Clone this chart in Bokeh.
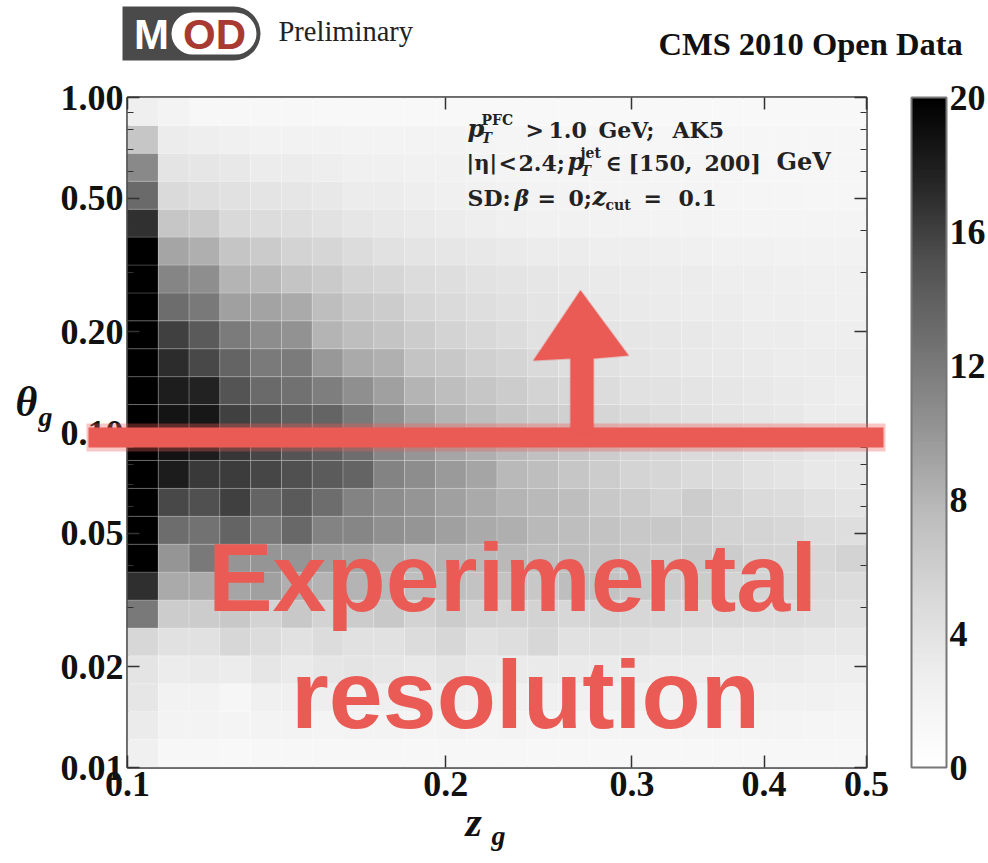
import numpy as np
from bokeh.plotting import figure
from bokeh.models import (ColumnDataSource, LinearColorMapper, ColorBar, FixedTicker, LogAxis,
                          CustomJSTickFormatter, Label, BoxAnnotation, PolyAnnotation, GridBox)
from bokeh.embed import file_html
from bokeh.resources import INLINE

# ---------------- data ----------------
z_edges = np.geomspace(0.1, 0.5, 25)        # 24 log bins in z_g
theta_edges = np.geomspace(0.01, 1.0, 25)   # 24 log bins in theta_g

# density, row 0 = lowest theta bin, column 0 = lowest z bin
density = [
    [2.5, 1.4, 1.3, 1.2, 1.4, 1.3, 1.4, 1.3, 1.3, 1.3, 1.4, 1.3, 1.3, 1.3, 1.3, 1.3, 1.3, 1.3, 1.3, 1.3, 1.3, 1.3, 1.3, 1.3],
    [3.1, 2.0, 2.0, 1.8, 2.0, 2.0, 1.9, 2.0, 2.0, 1.9, 2.0, 1.9, 2.0, 1.9, 1.9, 1.8, 1.9, 1.9, 1.8, 1.8, 1.8, 1.8, 1.7, 1.7],
    [3.6, 2.2, 2.2, 1.5, 2.5, 2.5, 2.7, 2.5, 2.6, 2.6, 2.7, 2.6, 2.5, 2.5, 2.5, 2.5, 2.5, 2.4, 2.4, 2.4, 2.3, 2.3, 2.3, 2.2],
    [3.8, 2.9, 3.2, 2.9, 3.6, 3.2, 3.6, 3.8, 3.6, 3.4, 3.8, 3.4, 3.2, 3.2, 3.2, 3.1, 3.1, 3.0, 3.0, 3.0, 2.9, 2.9, 2.8, 2.8],
    [5.2, 4.1, 4.1, 5.2, 4.7, 4.1, 4.7, 4.1, 4.1, 4.7, 5.2, 4.1, 4.5, 5.2, 4.1, 4.1, 4.1, 3.8, 3.8, 3.6, 3.6, 3.6, 3.4, 3.4],
    [12.1, 6.1, 6.1, 6.5, 5.6, 6.5, 5.6, 6.1, 6.5, 5.6, 6.1, 5.6, 5.4, 5.6, 5.2, 5.4, 5.2, 5.2, 4.9, 4.9, 4.7, 4.7, 4.5, 4.1],
    [16.9, 8.7, 8.7, 9.0, 9.3, 8.4, 8.1, 8.1, 7.8, 7.4, 7.4, 7.0, 7.0, 6.5, 7.4, 7.0, 6.5, 6.1, 6.1, 5.6, 5.4, 5.4, 4.9, 4.7],
    [21.0, 10.0, 12.1, 10.0, 10.0, 10.0, 9.3, 9.0, 8.4, 7.8, 8.1, 7.8, 7.8, 7.4, 7.4, 7.0, 6.5, 6.1, 6.5, 6.1, 5.6, 5.4, 5.2, 5.6],
    [24.0, 12.9, 12.5, 13.6, 12.1, 13.3, 11.4, 11.1, 10.4, 10.0, 9.3, 8.7, 8.4, 7.8, 7.4, 7.0, 6.5, 6.5, 6.1, 5.6, 5.4, 5.2, 4.7, 4.5],
    [26.0, 15.5, 15.1, 16.0, 13.6, 14.4, 12.9, 11.4, 10.7, 10.0, 9.3, 8.7, 8.1, 7.8, 7.4, 6.5, 6.1, 5.6, 6.1, 5.4, 4.9, 4.7, 4.1, 3.8],
    [28.0, 18.1, 16.4, 16.2, 15.7, 15.1, 14.3, 13.6, 11.4, 10.7, 9.7, 9.0, 7.8, 7.4, 6.7, 6.1, 5.5, 5.3, 4.9, 4.7, 4.1, 3.8, 3.4, 3.4],
    [28.0, 18.7, 18.0, 16.5, 15.7, 14.8, 14.0, 12.9, 11.1, 10.0, 9.0, 8.4, 7.8, 7.2, 6.7, 6.1, 5.6, 5.3, 4.9, 4.7, 4.2, 4.0, 3.6, 3.4],
    [28.0, 18.6, 18.4, 16.0, 14.8, 14.0, 13.6, 12.1, 10.4, 9.0, 8.1, 7.4, 6.7, 6.2, 5.8, 5.3, 4.9, 4.5, 4.1, 3.8, 3.6, 3.4, 3.0, 2.9],
    [27.0, 18.0, 17.7, 14.8, 13.2, 12.6, 11.7, 10.5, 9.3, 8.1, 7.4, 6.7, 6.1, 5.6, 5.2, 4.7, 4.2, 4.0, 3.8, 3.6, 3.4, 3.2, 2.9, 2.7],
    [26.0, 17.1, 15.5, 13.6, 12.0, 11.9, 9.9, 8.7, 8.3, 6.9, 6.5, 5.8, 5.4, 4.9, 4.5, 4.1, 3.8, 3.6, 3.4, 3.3, 3.2, 3.0, 2.9, 2.9],
    [25.0, 16.0, 14.4, 11.9, 10.7, 10.3, 8.1, 7.4, 6.9, 6.1, 5.6, 5.1, 4.7, 4.2, 4.0, 3.8, 3.6, 3.5, 3.4, 3.2, 3.0, 2.9, 2.8, 2.7],
    [23.0, 12.9, 12.1, 9.3, 9.2, 8.7, 7.4, 6.5, 6.1, 5.3, 4.9, 4.5, 4.1, 3.8, 3.6, 3.4, 3.2, 3.1, 3.0, 2.9, 2.8, 2.7, 2.6, 2.5],
    [21.0, 11.2, 10.6, 8.1, 7.8, 6.9, 6.4, 5.6, 5.3, 4.7, 4.5, 4.0, 3.8, 3.6, 3.4, 3.2, 3.1, 3.0, 2.9, 2.8, 2.7, 2.6, 2.5, 2.5],
    [21.0, 9.0, 8.4, 6.8, 6.3, 5.6, 5.3, 4.7, 4.2, 3.8, 3.6, 3.4, 3.2, 3.0, 2.9, 2.8, 2.7, 2.6, 2.5, 2.4, 2.3, 2.2, 2.2, 2.2],
    [16.8, 6.7, 6.4, 5.0, 4.7, 4.5, 4.0, 3.6, 3.4, 3.2, 2.9, 2.7, 2.5, 2.4, 2.3, 2.2, 2.1, 2.0, 2.0, 1.9, 1.9, 1.8, 1.8, 1.8],
    [13.2, 4.9, 4.5, 4.1, 3.8, 3.6, 3.4, 3.0, 2.9, 2.7, 2.5, 2.3, 2.2, 2.1, 2.0, 1.9, 1.9, 1.8, 1.8, 1.7, 1.7, 1.7, 1.6, 1.6],
    [10.9, 3.8, 3.6, 3.4, 3.0, 2.9, 2.7, 2.5, 2.5, 2.4, 2.4, 2.0, 1.9, 1.9, 1.8, 1.8, 1.8, 1.7, 1.7, 1.7, 1.6, 1.6, 1.6, 1.6],
    [6.7, 2.9, 2.7, 2.5, 2.2, 2.2, 2.2, 2.1, 2.1, 2.0, 2.0, 1.8, 1.7, 1.7, 1.6, 1.6, 1.6, 1.5, 1.5, 1.5, 1.5, 1.5, 1.5, 1.5],
    [2.6, 2.0, 1.4, 1.3, 1.3, 1.3, 1.2, 1.2, 1.2, 1.2, 1.2, 1.2, 1.2, 1.2, 1.2, 1.2, 1.2, 1.2, 1.2, 1.2, 1.2, 1.2, 1.2, 1.2],
]

x_ticks = [0.1, 0.2, 0.3, 0.4, 0.5]
y_ticks = [0.01, 0.02, 0.05, 0.1, 0.2, 0.5, 1.0]
y_minor = [0.03, 0.04, 0.06, 0.07, 0.08, 0.09, 0.3, 0.4, 0.6, 0.7, 0.8, 0.9]
cbar_ticks = [0, 4, 8, 12, 16, 20]
cbar_low, cbar_high = 0, 20

# ---------------- style ----------------
W, H = 988, 860
RED = "#EA5B55"
SERIF = "Liberation Serif"
SANS = "Liberation Sans"

greys9 = ["#ffffff", "#f0f0f0", "#d9d9d9", "#bdbdbd", "#969696", "#737373", "#525252", "#252525", "#000000"]
anchor_vals = np.array([int(c[1:3], 16) for c in greys9], dtype=float)
tt = np.linspace(0, 1, 256)
levels = np.interp(tt, np.linspace(0, 1, 9), anchor_vals)
palette = []
for g in levels:
    gi = int(round(g))
    palette.append("#%02x%02x%02x" % (gi, gi, gi))

mapper = LinearColorMapper(palette=palette, low=cbar_low, high=cbar_high)

left, right, bottom, top, val = [], [], [], [], []
for r, row in enumerate(density):
    for c, v in enumerate(row):
        left.append(z_edges[c]); right.append(z_edges[c + 1])
        bottom.append(theta_edges[r]); top.append(theta_edges[r + 1])
        val.append(v)
src = ColumnDataSource(dict(left=left, right=right, bottom=bottom, top=top, val=val))

p = figure(frame_width=739, frame_height=670,
           x_axis_type="log", y_axis_type="log",
           x_range=(0.1, 0.5), y_range=(0.01, 1.0),
           output_backend="svg", toolbar_location=None,
           min_border_left=127, min_border_right=W - 127 - 739,
           min_border_top=97, min_border_bottom=H - 97 - 670)
p.frame_align = False
p.grid.visible = False
p.background_fill_color = "white"
p.border_fill_color = "white"
p.outline_line_color = "#3a3a3a"
p.outline_line_width = 2.5

p.quad(left="left", right="right", bottom="bottom", top="top", source=src,
       fill_color={"field": "val", "transform": mapper},
       line_color="white", line_alpha=0.18, line_width=1)

tick_font = dict(major_label_text_font=SERIF, major_label_text_font_style="bold",
                 major_label_text_font_size="36px", major_label_text_color="#111111")

def style_axis(ax):
    ax.axis_line_color = None
    ax.major_tick_in = 12
    ax.major_tick_out = 0
    ax.minor_tick_in = 6
    ax.minor_tick_out = 0
    ax.major_tick_line_color = "#333333"
    ax.minor_tick_line_color = "#333333"
    ax.major_tick_line_width = 1.5
    ax.minor_tick_line_width = 1.2

xa = p.xaxis[0]
xa.ticker = FixedTicker(ticks=x_ticks)
xa.formatter = CustomJSTickFormatter(code="return tick.toFixed(1);")
xa.major_label_standoff = 4
for k, v in tick_font.items():
    setattr(xa, k, v)
style_axis(xa)

ya = p.yaxis[0]
ya.ticker = FixedTicker(ticks=y_ticks, minor_ticks=y_minor)
ya.formatter = CustomJSTickFormatter(code="return tick.toFixed(2);")
ya.major_label_standoff = 4
for k, v in tick_font.items():
    setattr(ya, k, v)
style_axis(ya)

top_ax = LogAxis(ticker=FixedTicker(ticks=x_ticks),
                 formatter=CustomJSTickFormatter(code="return '';"),
                 major_label_standoff=0)
style_axis(top_ax)
p.add_layout(top_ax, "above")

right_ax = LogAxis(ticker=FixedTicker(ticks=y_ticks, minor_ticks=y_minor),
                   formatter=CustomJSTickFormatter(code="return '';"),
                   major_label_standoff=0)
style_axis(right_ax)
p.add_layout(right_ax, "right")

cbar = ColorBar(color_mapper=mapper, ticker=FixedTicker(ticks=cbar_ticks),
                width=35, height=670, location=(45, 0), padding=0, margin=0,
                bar_line_color="#777777", bar_line_width=2,
                major_tick_line_color=None, minor_tick_line_color=None,
                label_standoff=3, background_fill_color=None, border_line_color=None,
                major_label_text_font=SERIF, major_label_text_font_style="bold",
                major_label_text_font_size="36px", major_label_text_color="#111111")
p.add_layout(cbar, "right")

# ---------------- transparent overlay in page pixel coordinates ----------------
ov = figure(width=W, height=H, x_range=(0, W), y_range=(H, 0),
            x_axis_location=None, y_axis_location=None,
            output_backend="svg", toolbar_location=None,
            min_border=0, min_border_left=0, min_border_right=0, min_border_top=0, min_border_bottom=0)
ov.frame_align = False
ov.grid.visible = False
ov.background_fill_color = None
ov.border_fill_color = None
ov.outline_line_color = None

def lab(text, x, base, size, font=SERIF, style="normal", color="#111111", align="left"):
    # base = baseline in page pixels; placed via the middle of the cap height
    ov.add_layout(Label(x=x, y=base - 0.36 * size, text=text,
                        text_font=font, text_font_style=style, text_font_size="%.1fpx" % size,
                        text_color=color, text_align=align, text_baseline="middle"))

def box(l, r, t, b, color, radius=0, alpha=1.0):
    ov.add_layout(BoxAnnotation(left=l, right=r, top=t, bottom=b,
                                fill_color=color, fill_alpha=alpha, line_color=None, border_radius=radius))

# axis labels
lab("θ", 15, 417, 42, style="bold italic")
lab("g", 38, 426, 28, style="bold italic")
lab("z", 465, 837, 42, style="bold italic")
lab("g", 491, 845, 28, style="bold italic")

# header: MOD logo, Preliminary, CMS 2010 Open Data
box(122, 260, 6, 60, "#4a4a4a", radius=(0, 27, 27, 0))
box(171, 256, 12, 54, "white", radius=21)
lab("M", 151, 49, 42, font=SANS, style="bold", color="white", align="center")
lab("OD", 214, 49, 42, font=SANS, style="bold", color="#a83a32", align="center")
lab("Preliminary", 278, 41, 28.5, color="#222222")
lab("CMS 2010 Open Data", 658, 55, 32.5, style="bold", color="#111111")

# in-plot annotation text
AF = "DejaVu Serif"
TC = "#222222"
FS, SS = 22, 14
# line 1
lab("p", 467, 137, 24, font=AF, style="bold italic", color=TC)
lab("PFC", 481, 125, SS, font=AF, style="bold", color=TC)
lab("T", 481, 143, SS, font=AF, style="bold italic", color=TC)
lab(">", 525, 137, FS, font=AF, style="bold", color=TC)
lab("1.0", 548, 137, FS, font=AF, style="bold", color=TC)
lab("GeV;", 598, 137, FS, font=AF, style="bold", color=TC)
lab("AK5", 672, 137, FS, font=AF, style="bold", color=TC)
# line 2
lab("|η|", 466, 170, 21, font=AF, style="bold", color=TC)
lab("<", 498, 170, FS, font=AF, style="bold", color=TC)
lab("2.4;", 518, 170, FS, font=AF, style="bold", color=TC)
lab("p", 567, 170, 24, font=AF, style="bold italic", color=TC)
lab("jet", 580, 158, SS, font=AF, style="bold", color=TC)
lab("T", 580, 176, SS, font=AF, style="bold italic", color=TC)
lab("∈", 605, 170, FS, font=AF, style="bold", color=TC)
lab("[150,", 628, 170, FS, font=AF, style="bold", color=TC)
lab("200]", 704, 170, FS, font=AF, style="bold", color=TC)
lab("GeV", 776, 170, 24, font=AF, style="bold", color=TC)
# line 3
lab("SD:", 467, 205, FS, font=AF, style="bold", color=TC)
lab("β", 514, 205, FS, font=AF, style="bold italic", color=TC)
lab("=", 537, 205, FS, font=AF, style="bold", color=TC)
lab("0;", 568, 205, FS, font=AF, style="bold", color=TC)
lab("z", 592, 205, 24, font=AF, style="bold italic", color=TC)
lab("cut", 605, 210, SS, font=AF, style="bold", color=TC)
lab("=", 643, 205, FS, font=AF, style="bold", color=TC)
lab("0.1", 678, 205, FS, font=AF, style="bold", color=TC)

# red hand-drawn overlay (solid core with a soft ragged fringe)
box(86, 885, 423, 451, RED, alpha=0.35)
box(88, 883, 427, 447, RED)
ov.add_layout(PolyAnnotation(xs=[580, 628, 593, 593, 570, 570, 533], ys=[290, 355, 358, 432, 432, 358, 360],
                             fill_color=RED, fill_alpha=1, line_color=RED, line_width=2))
lab("Experimental", 512, 612, 97, font=SANS, style="bold", color=RED, align="center")
lab("resolution", 525, 729, 97, font=SANS, style="bold", color=RED, align="center")

layout = GridBox(children=[(p, 0, 0), (ov, 0, 0)])
open("out.html", "w").write(file_html(layout, INLINE))
